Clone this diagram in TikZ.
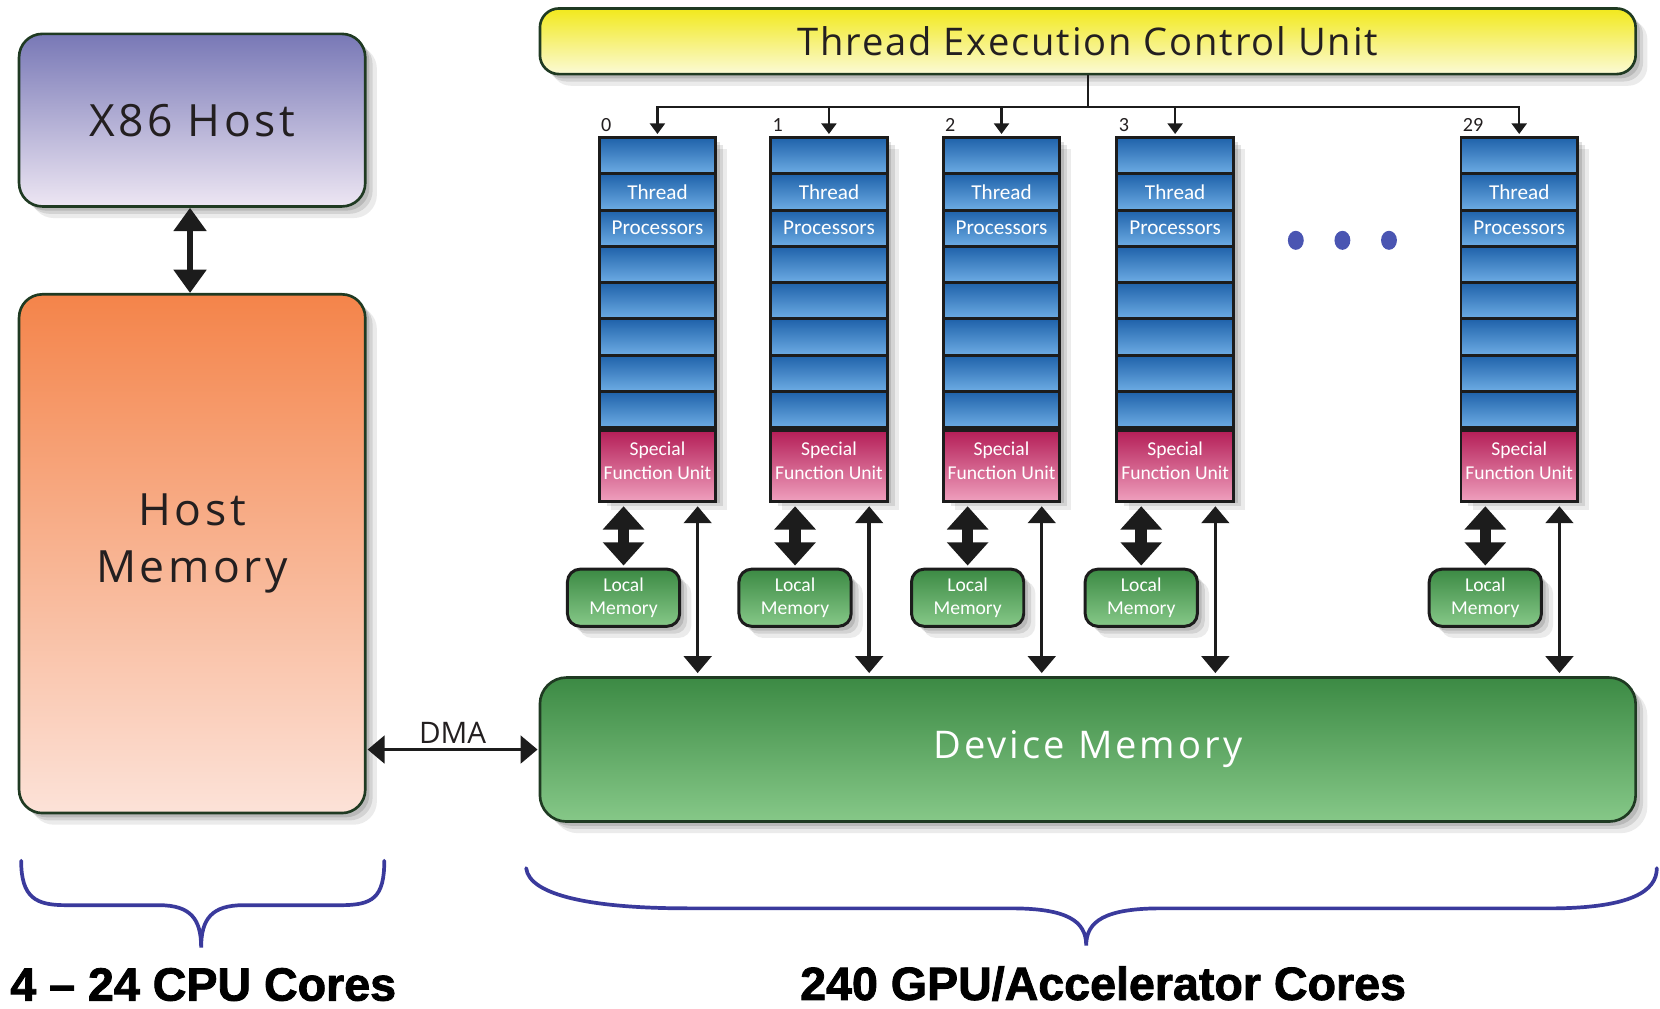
\documentclass[tikz,border=0pt]{standalone}
\usepackage{fontspec}
\setmainfont{Carlito}
\newfontfamily\titlefont[LetterSpace=8]{Open Sans}
\newfontfamily\barfont[LetterSpace=5]{Open Sans}
\newfontfamily\plainfont{Open Sans}
\newfontfamily\corefont[BoldFeatures={FakeBold=1.8}]{Liberation Sans}
\usetikzlibrary{positioning, arrows.meta, shadows}

\definecolor{edgegreen}{HTML}{1F3A22}
\definecolor{hosttop}{HTML}{7878B6}
\definecolor{hostbot}{HTML}{EDE6F3}
\definecolor{memtop}{HTML}{F4844A}
\definecolor{membot}{HTML}{FCE2D8}
\definecolor{bartop}{HTML}{F2E91C}
\definecolor{barbot}{HTML}{FBFAD6}
\definecolor{celltop}{HTML}{1F62AA}
\definecolor{cellbot}{HTML}{6DACE4}
\definecolor{sfutop}{HTML}{B41E57}
\definecolor{sfubot}{HTML}{EFA0BE}
\definecolor{greentop}{HTML}{3C8A44}
\definecolor{greenbot}{HTML}{86C888}
\definecolor{inkline}{HTML}{1C1C1C}
\definecolor{bracecol}{HTML}{3A3A9C}
\definecolor{dotcol}{HTML}{4A55B2}
\definecolor{txt}{HTML}{231F20}

\tikzset{
  softshadow/.style={
    general shadow={fill=black, opacity=.08, shadow xshift=11pt, shadow yshift=-11pt},
    general shadow={fill=black, opacity=.10, shadow xshift=7pt, shadow yshift=-7pt},
    general shadow={fill=black, opacity=.12, shadow xshift=4pt, shadow yshift=-4pt}},
  bigbox/.style={draw=edgegreen, line width=2.5pt, inner sep=0pt, softshadow, align=center},
  cell/.style={draw=inkline, line width=2.8pt, inner sep=0pt, minimum width=110pt,
    minimum height=34.25pt, top color=celltop, bottom color=cellbot, text=white,
    font=\fontsize{20}{22}\selectfont},
  sfu/.style={cell, minimum height=67pt, top color=sfutop, bottom color=sfubot, align=center,
    font=\fontsize{18.5}{22.5}\selectfont},
  lmem/.style={draw=inkline, line width=2.8pt, rounded corners=12pt, inner sep=0pt,
    minimum width=106pt, minimum height=54pt, top color=greentop, bottom color=greenbot,
    text=white, align=center, font=\fontsize{18.5}{22.5}\selectfont, softshadow},
  numlabel/.style={inner sep=0pt, text=txt, font=\fontsize{19}{19}\selectfont},
  hostarrow/.style={line width=6pt, draw=inkline,
    {Triangle[width=30pt,length=22pt]}-{Triangle[width=30pt,length=22pt]}},
  fatarrow/.style={line width=11pt, draw=inkline, shorten <=3pt, shorten >=2pt,
    {Triangle[width=38pt,length=22pt]}-{Triangle[width=38pt,length=22pt]}},
  thinarrow/.style={line width=3.2pt, draw=inkline, shorten <=3pt, shorten >=3pt,
    {Triangle[width=26pt,length=16pt]}-{Triangle[width=26pt,length=16pt]}},
  busarrow/.style={line width=2.4pt, draw=inkline, shorten >=2pt,
    -{Triangle[width=14pt,length=10pt]}},
  bracepath/.style={draw=bracecol, line width=3.5pt, line cap=round},
  corelabel/.style={inner sep=0pt, font=\corefont\bfseries\fontsize{44}{44}\selectfont}
}

\begin{document}
\begin{tikzpicture}[x=1pt, y=-1pt]
  \useasboundingbox (0,0) rectangle (1568,953);

  % host side
  \node[bigbox, rounded corners=22pt, minimum width=327pt, minimum height=163pt,
    top color=hosttop, bottom color=hostbot, text=txt,
    font=\titlefont\fontsize{42}{48}\selectfont] (host) at (181.5,113.5) {X86 Host};
  \node[bigbox, rounded corners=22pt, minimum width=327pt, minimum height=490pt,
    top color=memtop, bottom color=membot,
    label={[yshift=10pt, align=center, text=txt, font=\titlefont\fontsize{42}{54}\selectfont]center:Host\\Memory}]
    (mem) at (181.5,523) {};
  \draw[hostarrow] ([xshift=-2pt]host.south) -- ([xshift=-2pt]mem.north);

  % accelerator side
  \node[bigbox, rounded corners=18pt, minimum width=1035pt, minimum height=62pt,
    top color=bartop, bottom color=barbot, text=txt,
    font=\barfont\fontsize{36}{40}\selectfont] (tecu) at (1027.5,39) {Thread Execution Control Unit};
  \node[bigbox, rounded corners=25pt, minimum width=1035pt, minimum height=136pt,
    top color=greentop, bottom color=greenbot, text=white,
    font=\titlefont\fontsize{36}{40}\selectfont] (dev) at (1027.5,708) {Device Memory};

  \coordinate (bus) at (1027.5,101);
  \draw[line width=2.4pt, draw=inkline] (tecu.south) -- (bus);

  % one column per multiprocessor
  \foreach \lab/\cx [count=\k] in {0/621,1/783,2/946,3/1110,29/1435}{
    \path[softshadow] (\cx-55,130) rectangle (\cx+55,471);
    \foreach \r/\t in {1/{},2/Thread,3/Processors,4/{},5/{},6/{},7/{},8/{}}
      \node[cell] (p\k-\r) at (\cx,{130+34.25*(\r-0.5)}) {\t};
    \node[sfu, below=0pt of p\k-8] (sfu\k) {Special\\Function Unit\\[-12pt]\mbox{}};
    \node[numlabel, anchor=south west] (n\k) at ([xshift=3pt,yshift=4pt]p\k-1.north west) {\lab};
    \node[lmem, below=61pt of sfu\k.south, xshift=-32pt] (lm\k) {Local\\Memory};
    \draw[fatarrow] (lm\k.north |- sfu\k.south) -- (lm\k.north);
    \draw[thinarrow] ([xshift=38pt]sfu\k.south) -- ([xshift=38pt]sfu\k.south |- dev.north);
    \draw[busarrow] (bus) -| (p\k-1.north);
  }

  % the gap between column 3 and 29
  \foreach \dx in {1224,1268,1312}
    \fill[dotcol] (\dx,227) ellipse [x radius=7.5pt, y radius=9pt];

  \draw[thinarrow, shorten <=1pt, shorten >=1pt] (mem.east |- dev.west) -- (dev.west)
    node[midway, above=4pt, inner sep=0pt, text=txt, font=\plainfont\fontsize{28}{28}\selectfont] (dma) {DMA};

  % braces and core counts
  \draw[bracepath] (20,813) .. controls (20,848) and (34,855) .. (62,855) -- (150,855)
    .. controls (180,855) and (190,868) .. (190,895)
    .. controls (190,868) and (200,855) .. (230,855) -- (322,855)
    .. controls (352,855) and (363,848) .. (363,813);
  \draw[bracepath] (497,820) .. controls (500,846) and (560,858) .. (650,858) -- (955,858)
    .. controls (1008,858) and (1026,870) .. (1026,893)
    .. controls (1026,870) and (1044,858) .. (1097,858) -- (1470,858)
    .. controls (1540,857) and (1565,842) .. (1565,820);

  \node[corelabel] (cpu) at (192,930) {4 – 24 CPU Cores};
  \node[corelabel] (gpu) at (1042,929) {240 GPU/Accelerator Cores};
\end{tikzpicture}
\end{document}
